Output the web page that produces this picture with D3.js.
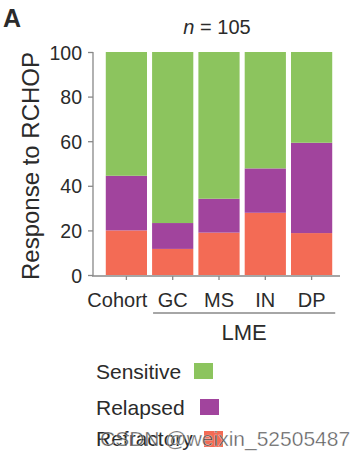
<!DOCTYPE html>
<html><head><meta charset="utf-8">
<script src="https://cdn.jsdelivr.net/npm/d3@7"></script>
<style>body{margin:0;background:#fff}svg{display:block}text{font-family:"Liberation Sans",Arial,sans-serif;fill:#2b2b2b}</style>
</head><body>
<script>
const categories = ["Cohort","GC","MS","IN","DP"];
const refractory = [20, 11.7, 19.0, 27.9, 18.8];
const relapsed   = [24.5, 11.6, 15.2, 19.9, 40.5];
const sensitive  = [55.5, 76.7, 65.8, 52.2, 40.7];
const seriesNames = ["Refractory","Relapsed","Sensitive"];
const yTicks = [0,20,40,60,80,100];
const colors = {Sensitive:"#8cc45e", Relapsed:"#a1449d", Refractory:"#f36b55"};

const W=352,H=461;
const svg=d3.select("body").append("svg").attr("width",W).attr("height",H);
const rows=categories.map((c,i)=>({cat:c,Refractory:refractory[i],Relapsed:relapsed[i],Sensitive:sensitive[i]}));
const stack=d3.stack().keys(seriesNames)(rows);

const x=d3.scaleBand().domain(categories).range([103,335]).paddingInner(0.11).paddingOuter(0.06);
const y=d3.scaleLinear().domain([0,100]).range([275,52]);

svg.append("g").selectAll("g").data(stack).join("g").attr("fill",d=>colors[d.key])
 .selectAll("rect").data(d=>d).join("rect")
 .attr("x",d=>x(d.data.cat)).attr("width",x.bandwidth())
 .attr("y",d=>y(d[1])).attr("height",d=>y(d[0])-y(d[1]));

// y axis
const ya=svg.append("g").attr("transform","translate(93,0)").call(d3.axisLeft(y).tickValues(yTicks).tickSize(5).tickPadding(6));
ya.select(".domain").attr("stroke","#888").attr("stroke-width",1.3).attr("d","M0,52V276");
ya.selectAll(".tick line").attr("stroke","#888").attr("stroke-width",1.3);
ya.selectAll(".tick text").attr("font-size",19.5).attr("fill","#2b2b2b").attr("dy","0.36em");

// x axis
const xa=svg.append("g").attr("transform","translate(0,276)").call(d3.axisBottom(x).tickSize(4).tickPadding(13));
xa.select(".domain").attr("stroke","#888").attr("stroke-width",1.3).attr("d","M92,0H340");
xa.selectAll(".tick line").attr("stroke","#888").attr("stroke-width",1.3);
xa.selectAll(".tick text").attr("font-size",20).attr("fill","#2b2b2b").attr("dx",d=>d==="Cohort"?-9:0);

// LME bracket
const x0=x("GC")+1, x1=x("DP")+x.bandwidth()+3;
svg.append("line").attr("x1",x0).attr("x2",x1).attr("y1",313).attr("y2",313).attr("stroke","#888").attr("stroke-width",1.5);
svg.append("text").attr("x",(x0+x1)/2).attr("y",340).attr("text-anchor","middle").attr("font-size",22).text("LME");

// y title
svg.append("text").attr("transform","translate(39,166) rotate(-90)").attr("text-anchor","middle").attr("font-size",24).text("Response to RCHOP");

// panel label
svg.append("text").attr("x",3).attr("y",27).attr("font-size",25).attr("font-weight","bold").attr("fill","#111").text("A");

// n label
const nt=svg.append("text").attr("x",217).attr("y",34).attr("text-anchor","middle").attr("font-size",20);
nt.append("tspan").attr("font-style","italic").text("n");
nt.append("tspan").text(" = 105");

// legend
const leg=[{k:"Sensitive",ty:379,sx:194,sy:363},{k:"Relapsed",ty:415,sx:200,sy:399},{k:"Refractory",ty:446,sx:204,sy:431}];
leg.forEach(l=>{
  svg.append("text").attr("x",96).attr("y",l.ty).attr("font-size",21).text(l.k);
  svg.append("rect").attr("x",l.sx).attr("y",l.sy).attr("width",19).attr("height",16).attr("fill",colors[l.k]);
});

// watermark
svg.append("text").attr("x",100).attr("y",446).attr("font-size",21).attr("fill","#555").attr("fill-opacity",0.75)
 .attr("stroke","#fff").attr("stroke-width",0.6).attr("stroke-opacity",0.6).text("CSDN @weixin_52505487");
</script>
</body></html>
